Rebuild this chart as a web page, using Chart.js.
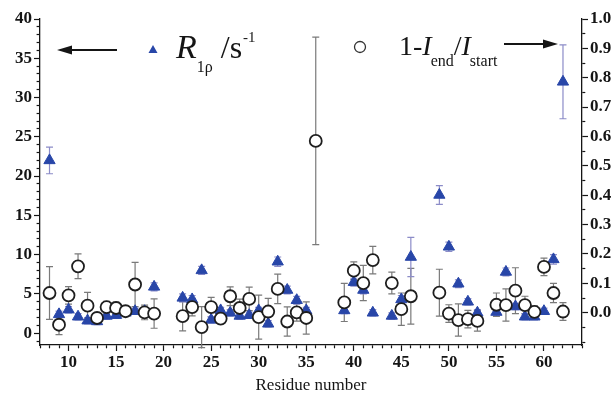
<!DOCTYPE html>
<html>
<head>
<meta charset="utf-8">
<script src="https://cdn.jsdelivr.net/npm/chart.js@4.4.1/dist/chart.umd.min.js"></script>
<style>
  html, body { margin: 0; padding: 0; background: #fff; }
</style>
</head>
<body>
<canvas id="myChart" width="616" height="396"></canvas>
<script>
// R1rho (left axis, s^-1) - blue triangles
var triRes = [8, 9, 10, 11, 12, 13, 14, 15, 16, 17, 18, 19, 22, 23, 24, 25, 26, 27, 28, 29, 30, 31, 32, 33, 34, 35,
              39, 40, 41, 42, 44, 45, 46, 49, 50, 51, 52, 53, 55, 56, 57, 58, 59, 60, 61, 62];
var triVal = [22.0, 2.4, 3.0, 2.1, 1.6, 1.5, 2.2, 2.3, 2.6, 2.8, 2.8, 5.9, 4.5, 4.3, 8.0, 1.7, 2.9, 2.6, 2.2, 2.3, 2.9, 1.2, 9.1, 5.5, 4.2, 2.9,
              2.9, 6.5, 5.5, 2.6, 2.2, 4.3, 9.7, 17.6, 11.0, 6.3, 4.0, 2.6, 2.7, 7.8, 3.4, 2.1, 2.1, 2.8, 9.4, 32.0];
var triErr = [1.7, 0.4, 0.4, 0.4, 0.4, 0.4, 0.4, 0.4, 0.4, 0.4, 0.4, 0.5, 0.5, 0.5, 0.5, 0.4, 0.4, 0.4, 0.4, 0.4, 0.4, 0.4, 0.6, 0.5, 0.5, 0.4,
              0.4, 0.5, 0.5, 0.4, 0.4, 0.5, 2.5, 1.2, 0.6, 0.5, 0.4, 0.4, 0.4, 0.5, 0.4, 0.4, 0.4, 0.4, 0.6, 4.7];

// 1 - Iend/Istart (right axis) - open circles
var circRes = [8, 9, 10, 11, 12, 13, 14, 15, 16, 17, 18, 19, 22, 23, 24, 25, 26, 27, 28, 29, 30, 31, 32, 33, 34, 35, 36,
               39, 40, 41, 42, 44, 45, 46, 49, 50, 51, 52, 53, 55, 56, 57, 58, 59, 60, 61, 62];
var circVal = [0.067, -0.041, 0.059, 0.158, 0.024, -0.018, 0.019, 0.016, 0.005, 0.096, 0.001, -0.003,
               -0.012, 0.019, -0.049, 0.019, -0.020, 0.056, 0.016, 0.047, -0.015, 0.004, 0.081, -0.030, 0.001, -0.018, 0.585,
               0.035, 0.143, 0.101, 0.179, 0.101, 0.012, 0.056, 0.068, -0.003, -0.025, -0.022, -0.028,
               0.027, 0.026, 0.075, 0.026, 0.003, 0.156, 0.067, 0.004];
var circErr = [0.090, 0.034, 0.030, 0.042, 0.045, 0.015, 0.020, 0.020, 0.015, 0.075, 0.025, 0.050,
               0.050, 0.030, 0.070, 0.033, 0.015, 0.032, 0.030, 0.040, 0.075, 0.045, 0.050, 0.050, 0.030, 0.055, 0.353,
               0.065, 0.030, 0.060, 0.047, 0.037, 0.055, 0.095, 0.080, 0.030, 0.055, 0.030, 0.035,
               0.040, 0.055, 0.078, 0.030, 0.020, 0.030, 0.033, 0.030];

// labelled (major) ticks; unlabelled minor ticks fall between them
var xTicks = [10, 15, 20, 25, 30, 35, 40, 45, 50, 55, 60];
var leftTicks = [0, 5, 10, 15, 20, 25, 30, 35, 40];
var rightTicks = [0.0, 0.1, 0.2, 0.3, 0.4, 0.5, 0.6, 0.7, 0.8, 0.9, 1.0];

var serif = "'Liberation Serif', 'DejaVu Serif', serif";
var ink = '#151515';
var triBlue = '#2846a8';

function toPoints(xs, ys) {
    return xs.map(function (x, i) { return { x: x, y: ys[i] }; });
}

function isMajor(list, v) {
    return list.some(function (m) { return Math.abs(m - v) < 1e-6; });
}

// error bars under the markers
var errorBars = {
    id: 'errorBars',
    beforeDatasetsDraw: function (chart) {
        var ctx = chart.ctx;
        chart.data.datasets.forEach(function (ds, i) {
            var meta = chart.getDatasetMeta(i);
            var ys = chart.scales[ds.yAxisID];
            ctx.save();
            ctx.strokeStyle = ds.errorColor;
            ctx.lineWidth = 1.2;
            ds.data.forEach(function (p, j) {
                var x = meta.data[j].x;
                var top = ys.getPixelForValue(p.y + ds.errors[j]);
                var bot = ys.getPixelForValue(p.y - ds.errors[j]);
                ctx.beginPath();
                ctx.moveTo(x, top); ctx.lineTo(x, bot);
                ctx.moveTo(x - 3.5, top); ctx.lineTo(x + 3.5, top);
                ctx.moveTo(x - 3.5, bot); ctx.lineTo(x + 3.5, bot);
                ctx.stroke();
            });
            ctx.restore();
        });
    }
};

function arrow(ctx, x1, x2, y) {
    var dir = x2 > x1 ? 1 : -1;
    ctx.beginPath();
    ctx.moveTo(x1, y); ctx.lineTo(x2 - dir * 10, y);
    ctx.lineWidth = 2;
    ctx.stroke();
    ctx.beginPath();
    ctx.moveTo(x2, y);
    ctx.lineTo(x2 - dir * 15, y - 4.5);
    ctx.lineTo(x2 - dir * 15, y + 4.5);
    ctx.closePath();
    ctx.fill();
}

// write a run of [text, font, baselineY, extraGap] pieces left to right
function textRun(ctx, x, pieces) {
    pieces.forEach(function (p) {
        ctx.font = p[1];
        ctx.fillText(p[0], x, p[2]);
        x += ctx.measureText(p[0]).width + (p[3] || 0);
    });
}

// the key at the top of the plot
var key = {
    id: 'key',
    afterDraw: function (chart) {
        var ctx = chart.ctx;
        ctx.save();
        ctx.fillStyle = ink;
        ctx.strokeStyle = ink;
        arrow(ctx, 117, 57, 50);
        arrow(ctx, 504, 558, 44);

        ctx.fillStyle = triBlue;
        ctx.beginPath();
        ctx.moveTo(153, 45); ctx.lineTo(157.5, 53); ctx.lineTo(148.5, 53);
        ctx.closePath(); ctx.fill();

        ctx.strokeStyle = '#333';
        ctx.lineWidth = 1.3;
        ctx.beginPath();
        ctx.arc(360, 47, 5.5, 0, Math.PI * 2);
        ctx.stroke();

        ctx.fillStyle = ink;
        ctx.textBaseline = 'alphabetic';
        textRun(ctx, 176, [
            ['R', 'italic 34px ' + serif, 58, 0],
            ['1\u03c1', '16px ' + serif, 72, 8],
            ['/s', '32px ' + serif, 58, 1],
            ['-1', '15px ' + serif, 42]
        ]);
        textRun(ctx, 399, [
            ['1-', '28px ' + serif, 55, 0],
            ['I', 'italic 28px ' + serif, 55, -1],
            ['end', '16px ' + serif, 66, 0],
            ['/', '28px ' + serif, 55, 0],
            ['I', 'italic 28px ' + serif, 55, -1],
            ['start', '16px ' + serif, 66]
        ]);
        ctx.restore();
    }
};

// one scale per axis: every step gets a tick mark, majors get a label,
// minor marks are shortened to the half next to the axis line with a dash
function axis(pos, axisMin, axisMax, step, majors, size, fmt) {
    var horizontal = pos === 'bottom';
    return {
        type: 'linear', position: pos, min: axisMin, max: axisMax,
        afterBuildTicks: function (s) {
            var t = [];
            for (var k = Math.ceil(axisMin / step - 1e-9); k * step <= axisMax + 1e-9; k++) {
                t.push({ value: Math.round(k * step * 1000) / 1000 });
            }
            s.ticks = t;
        },
        afterFit: function (s) { if (horizontal) { s.height = size; } else { s.width = size; } },
        grid: {
            drawOnChartArea: false, tickLength: 6, tickColor: ink, tickWidth: 1.2,
            tickBorderDash: function (c) {
                if (isMajor(majors, c.tick.value)) { return []; }
                return pos === 'left' ? [3, 3] : [3, 10];
            },
            tickBorderDashOffset: function (c) {
                return (pos === 'left' && !isMajor(majors, c.tick.value)) ? 3.4 : 0;
            }
        },
        border: { display: true, color: ink, width: 1.3 },
        ticks: {
            color: ink, padding: horizontal ? 1 : 2, autoSkip: false, maxRotation: 0,
            font: { family: serif, size: 17, weight: 'bold' },
            callback: function (v) { return isMajor(majors, v) ? fmt(v) : ''; }
        }
    };
}

var xAxis = axis('bottom', 7, 64, 1, xTicks, 51, function (v) { return String(v); });
xAxis.title = { display: true, text: 'Residue number', color: ink,
                font: { family: serif, size: 17 }, padding: { top: 0, bottom: 0 } };

var ctx = document.getElementById('myChart').getContext('2d');
var chart = new Chart(ctx, {
    type: 'scatter',
    data: {
        datasets: [{
            label: '1-Iend/Istart',
            data: toPoints(circRes, circVal),
            yAxisID: 'y2',
            errors: circErr,
            errorColor: '#7a7a7a',
            pointStyle: 'circle',
            pointRadius: 6,
            pointHoverRadius: 6,
            backgroundColor: '#ffffff',
            borderColor: '#1e1e1e',
            borderWidth: 1.8
        }, {
            label: 'R1rho /s-1',
            data: toPoints(triRes, triVal),
            yAxisID: 'y',
            errors: triErr,
            errorColor: '#8c8cc8',
            pointStyle: 'triangle',
            pointRadius: 6.5,
            pointHoverRadius: 6.5,
            backgroundColor: triBlue,
            borderColor: triBlue,
            borderWidth: 1
        }]
    },
    options: {
        responsive: false,
        animation: false,
        devicePixelRatio: 1,
        layout: { padding: { top: 19, left: 0, right: 0, bottom: 0 } },
        plugins: { legend: { display: false }, tooltip: { enabled: false } },
        scales: {
            x: xAxis,
            y: axis('left', -1.5, 40, 1, leftTicks, 40, function (v) { return String(v); }),
            y2: axis('right', -0.11, 1.0, 0.05, rightTicks, 34, function (v) { return v.toFixed(1); })
        }
    },
    plugins: [errorBars, key]
});
</script>
</body>
</html>
